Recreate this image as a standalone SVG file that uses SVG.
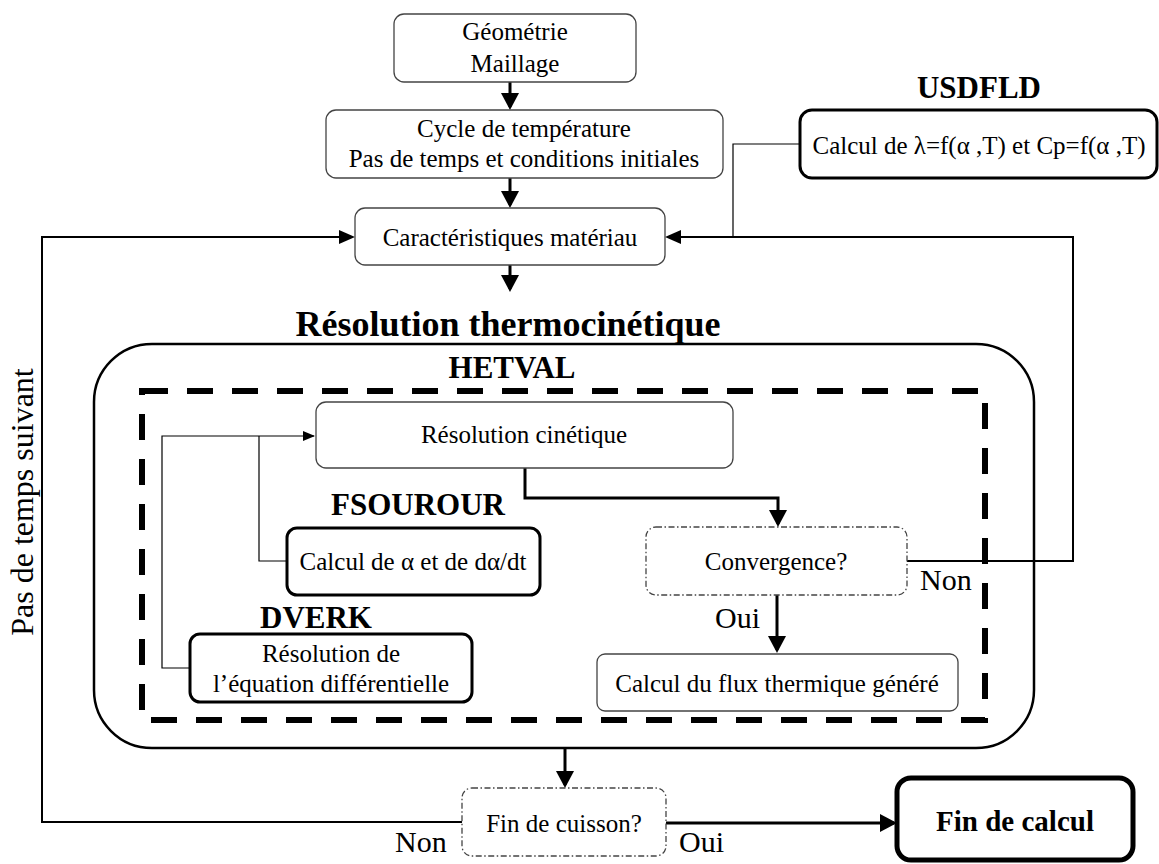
<svg xmlns="http://www.w3.org/2000/svg" width="1159" height="864" viewBox="0 0 1159 864" font-family="'Liberation Serif', Tinos, 'Times New Roman', Times, 'DejaVu Serif', serif">
<style>
text{font-family:"Liberation Serif",Tinos,"Times New Roman",Times,"DejaVu Serif",serif;fill:#000;}
.n{font-size:25px;text-anchor:middle;}
.b{font-size:31px;font-weight:bold;text-anchor:middle;}
.yn{font-size:30px;}
.thin{fill:#fff;stroke:#444;stroke-width:1.3;}
.dd{fill:#fff;stroke:#444;stroke-width:1.3;stroke-dasharray:6 2.5 1.5 2.5;}
.thick{fill:#fff;stroke:#000;stroke-width:3;}
.c3{fill:none;stroke:#000;stroke-width:3;}
.c2{fill:none;stroke:#000;stroke-width:2;}
.c1{fill:none;stroke:#000;stroke-width:1.2;}
</style>
<defs>
<marker id="ab" viewBox="0 0 17 18" refX="14" refY="9" markerWidth="17" markerHeight="18" markerUnits="userSpaceOnUse" orient="auto"><path d="M0,0 L17,9 L0,18 z" fill="#000"/></marker>
<marker id="am" viewBox="0 0 16 14" refX="13" refY="7" markerWidth="16" markerHeight="14" markerUnits="userSpaceOnUse" orient="auto"><path d="M0,0 L16,7 L0,14 z" fill="#000"/></marker>
<marker id="as" viewBox="0 0 12 10" refX="11" refY="5" markerWidth="12" markerHeight="10" markerUnits="userSpaceOnUse" orient="auto"><path d="M0,0 L12,5 L0,10 z" fill="#000"/></marker>
</defs>
<rect width="1159" height="864" fill="#fff"/>

<g id="resolution-thermo">
<rect x="94" y="344" width="940" height="404" rx="58" ry="58" fill="none" stroke="#000" stroke-width="2.5"/>
<text x="508" y="336" style="font-size:36px;font-weight:bold;text-anchor:middle">Résolution thermocinétique</text>
</g>
<g id="hetval">
<rect x="142" y="391" width="843" height="329" fill="none" stroke="#000" stroke-width="6" stroke-dasharray="26 19"/>
<text class="b" x="512" y="378">HETVAL</text>
</g>

<g id="connectors">
<path class="c3" d="M510,82 L510,107" marker-end="url(#ab)"/>
<path class="c3" d="M510,178 L510,205" marker-end="url(#ab)"/>
<path class="c3" d="M510,265 L510,289" marker-end="url(#ab)"/>
<path class="c2" d="M462,822 L42,822 L42,237 L352,237" marker-end="url(#am)"/>
<path class="c2" d="M907,561 L1073,561 L1073,237 L668,237" marker-end="url(#am)"/>
<path class="c1" d="M800,144 L733,144 L733,237"/>
<path class="c3" d="M525,468 L525,498 L778,498 L778,524" marker-end="url(#ab)"/>
<path class="c3" d="M777,595 L777,650" marker-end="url(#ab)"/>
<path class="c1" d="M287,561 L259,561 L259,436"/>
<path class="c1" d="M190,668 L162,668 L162,436 L314,436" marker-end="url(#as)"/>
<path class="c3" d="M565,749 L565,785" marker-end="url(#ab)"/>
<path class="c3" d="M666,823 L894,823" marker-end="url(#ab)"/>
<text class="yn" x="920" y="590">Non</text>
<text class="yn" x="715" y="628">Oui</text>
<text class="yn" x="395" y="852">Non</text>
<text class="yn" x="679" y="852">Oui</text>
<text transform="translate(33,502) rotate(-90)" style="font-size:32px;text-anchor:middle">Pas de temps suivant</text>
</g>

<g id="geometrie">
<rect class="thin" x="394" y="14" width="242" height="68" rx="10"/>
<text class="n" x="515" y="40">Géométrie</text>
<text class="n" x="515" y="72">Maillage</text>
</g>
<g id="cycle">
<rect class="thin" x="326" y="110" width="397" height="68" rx="10"/>
<text class="n" x="524" y="137">Cycle de température</text>
<text class="n" x="524" y="167">Pas de temps et conditions initiales</text>
</g>
<g id="caracteristiques">
<rect class="thin" x="355" y="208" width="310" height="57" rx="10"/>
<text class="n" x="510" y="246">Caractéristiques matériau</text>
</g>
<g id="usdfld">
<rect class="thick" x="800" y="110" width="357" height="68" rx="12"/>
<text class="b" x="979" y="98">USDFLD</text>
<text class="n" x="979" y="154">Calcul de λ=f(α ,T) et Cp=f(α ,T)</text>
</g>
<g id="resolution-cinetique">
<rect class="thin" x="316" y="402" width="417" height="66" rx="10"/>
<text class="n" x="524" y="443">Résolution cinétique</text>
</g>
<g id="fsourour">
<rect class="thick" x="287" y="528" width="253" height="67" rx="10"/>
<text class="b" x="418" y="515">FSOUROUR</text>
<text class="n" x="413" y="570">Calcul de α et de dα/dt</text>
</g>
<g id="dverk">
<rect class="thick" x="190" y="634" width="282" height="68" rx="10"/>
<text class="b" x="316" y="628">DVERK</text>
<text class="n" x="331" y="662">Résolution de</text>
<text class="n" x="331" y="692">l’équation différentielle</text>
</g>
<g id="convergence">
<rect class="dd" x="646" y="527" width="261" height="68" rx="10"/>
<text class="n" x="776" y="570">Convergence?</text>
</g>
<g id="flux">
<rect class="thin" x="597" y="654" width="361" height="57" rx="8"/>
<text class="n" x="777" y="692">Calcul du flux thermique généré</text>
</g>
<g id="fin-cuisson">
<rect class="dd" x="462" y="788" width="204" height="68" rx="10"/>
<text class="n" x="564" y="832">Fin de cuisson?</text>
</g>
<g id="fin-calcul">
<rect x="897" y="778" width="236" height="82" rx="14" fill="#fff" stroke="#000" stroke-width="5"/>
<text x="1015" y="831" style="font-size:29px;font-weight:bold;text-anchor:middle">Fin de calcul</text>
</g>
</svg>
